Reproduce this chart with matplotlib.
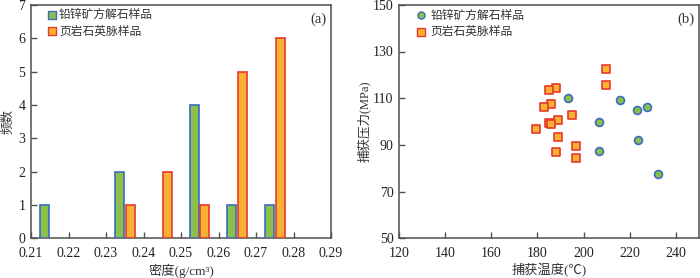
import matplotlib
matplotlib.use("Agg")
import matplotlib.pyplot as plt
import numpy as np

# ── Data ──────────────────────────────────────────────────────────────────────
# (a) density histogram: bin start (g/cm3) and counts
pbzn_bins   = [0.21, 0.23, 0.25, 0.26, 0.27]
pbzn_counts = [1, 2, 4, 1, 1]
shale_bins   = [0.23, 0.24, 0.25, 0.26, 0.27]
shale_counts = [1, 2, 1, 5, 6]

# (b) trapping temperature (°C) vs trapping pressure (MPa)
pbzn_temp  = [193.4, 215.8, 223.1, 227.3, 206.8, 223.4, 206.8, 232.2]
pbzn_press = [110.0, 109.3, 105.0, 106.1, 99.9, 91.9, 87.3, 77.7]
shale_temp  = [209.7, 209.7, 188.0, 185.1, 185.8, 182.9, 195.0, 189.1,
               185.1, 186.0, 179.2, 189.1, 196.9, 188.1, 196.9]
shale_press = [122.4, 115.6, 114.3, 113.3, 107.4, 106.3, 102.7, 100.7,
               99.3, 99.0, 97.0, 93.5, 89.7, 87.0, 84.3]

xticks_a = [0.21, 0.22, 0.23, 0.24, 0.25, 0.26, 0.27, 0.28, 0.29]
xtick_labels_a = ["0.21", "0.22", "0.23", "0.24", "0.25", "0.26", "0.27", "0.28", "0.29"]

label_pbzn  = "铅锌矿方解石样品"
label_shale = "页岩石英脉样品"

# ── Style ─────────────────────────────────────────────────────────────────────
FONT = ["Liberation Serif", "Noto Sans CJK SC"]
plt.rcParams["font.family"] = FONT
plt.rcParams["font.size"] = 9.5

GREEN_FC, GREEN_EC = "#8cc04b", "#3a6cc0"
ORANGE_FC, ORANGE_EC = "#f8b133", "#e8382b"
SPINE = "#505050"
TEXT = "#333333"

W, H = 700, 278
fig = plt.figure(figsize=(W / 100, H / 100), dpi=100)


def style_axes(ax):
    for s in ax.spines.values():
        s.set_color(SPINE)
        s.set_linewidth(1.1)
    ax.tick_params(axis="both", direction="in", length=4, width=1, color=SPINE,
                   labelsize=10, top=False, right=False, labelcolor="#222222")
    ax.tick_params(axis="x", pad=6)
    ax.tick_params(axis="y", pad=4)


# ── (a) ───────────────────────────────────────────────────────────────────────
ax1 = fig.add_axes([31 / W, (H - 238.3) / H, 300 / W, 233.5 / H])
bw = 0.0024
ax1.bar(np.array(pbzn_bins) + 0.0036, pbzn_counts, width=bw,
        color=GREEN_FC, edgecolor=GREEN_EC, linewidth=1.2, zorder=3)
ax1.bar(np.array(shale_bins) + 0.0064, shale_counts, width=bw,
        color=ORANGE_FC, edgecolor=ORANGE_EC, linewidth=1.2, zorder=3)
ax1.set_xlim(0.21, 0.29)
ax1.set_ylim(0, 7)
ax1.set_xticks(xticks_a)
ax1.set_xticklabels(xtick_labels_a)
ax1.set_yticks(range(0, 8))
style_axes(ax1)
ax1.set_ylabel("频数", fontsize=9, color=TEXT)
ax1.yaxis.set_label_coords(-17 / 300, 0.5)
ax1.set_xlabel("密度(g/cm³)", fontsize=9.5, color=TEXT)
ax1.xaxis.set_label_coords(0.5, -25 / 233.5)
ax1.text(0.985, 0.965, "(a)", transform=ax1.transAxes, ha="right", va="top",
         fontsize=10.5, color=TEXT)

# legend (a)
ax1.scatter([0.2155], [6.69], marker="s", s=26, color=GREEN_FC, edgecolor=GREEN_EC,
            linewidth=1.0, zorder=4, clip_on=False)
ax1.scatter([0.2155], [6.2], marker="s", s=26, color=ORANGE_FC, edgecolor=ORANGE_EC,
            linewidth=1.0, zorder=4, clip_on=False)
ax1.text(0.2175, 6.69, label_pbzn, va="center", fontsize=8.5, color=TEXT)
ax1.text(0.2175, 6.2, label_shale, va="center", fontsize=8.5, color=TEXT)

# ── (b) ───────────────────────────────────────────────────────────────────────
ax2 = fig.add_axes([399 / W, (H - 238.3) / H, 300 / W, 233.5 / H])
ax2.scatter(pbzn_temp, pbzn_press, marker="o", s=32, color=GREEN_FC,
            edgecolor=GREEN_EC, linewidth=1.2, zorder=3)
ax2.scatter(shale_temp, shale_press, marker="s", s=30, color=ORANGE_FC,
            edgecolor=ORANGE_EC, linewidth=1.2, zorder=3)
ax2.set_xlim(120, 250)
ax2.set_ylim(50, 150)
ax2.set_xticks(range(120, 250, 20))
ax2.set_yticks(range(50, 151, 20))
style_axes(ax2)
ax2.set_ylabel("捕获压力(MPa)", fontsize=9, color=TEXT)
ax2.yaxis.set_label_coords(-28 / 300, 0.5)
ax2.set_xlabel("捕获温度(℃)", fontsize=9.5, color=TEXT)
ax2.xaxis.set_label_coords(0.5, -25 / 233.5)
ax2.text(0.985, 0.965, "(b)", transform=ax2.transAxes, ha="right", va="top",
         fontsize=10.5, color=TEXT)

# legend (b)
ax2.scatter([129.5], [145.5], marker="o", s=26, color=GREEN_FC, edgecolor=GREEN_EC,
            linewidth=1.0, zorder=4)
ax2.scatter([129.5], [138.5], marker="s", s=26, color=ORANGE_FC, edgecolor=ORANGE_EC,
            linewidth=1.0, zorder=4)
ax2.text(133.5, 145.5, label_pbzn, va="center", fontsize=8.5, color=TEXT)
ax2.text(133.5, 138.5, label_shale, va="center", fontsize=8.5, color=TEXT)

fig.savefig("out.png", dpi=100, facecolor="white")
plt.close(fig)
